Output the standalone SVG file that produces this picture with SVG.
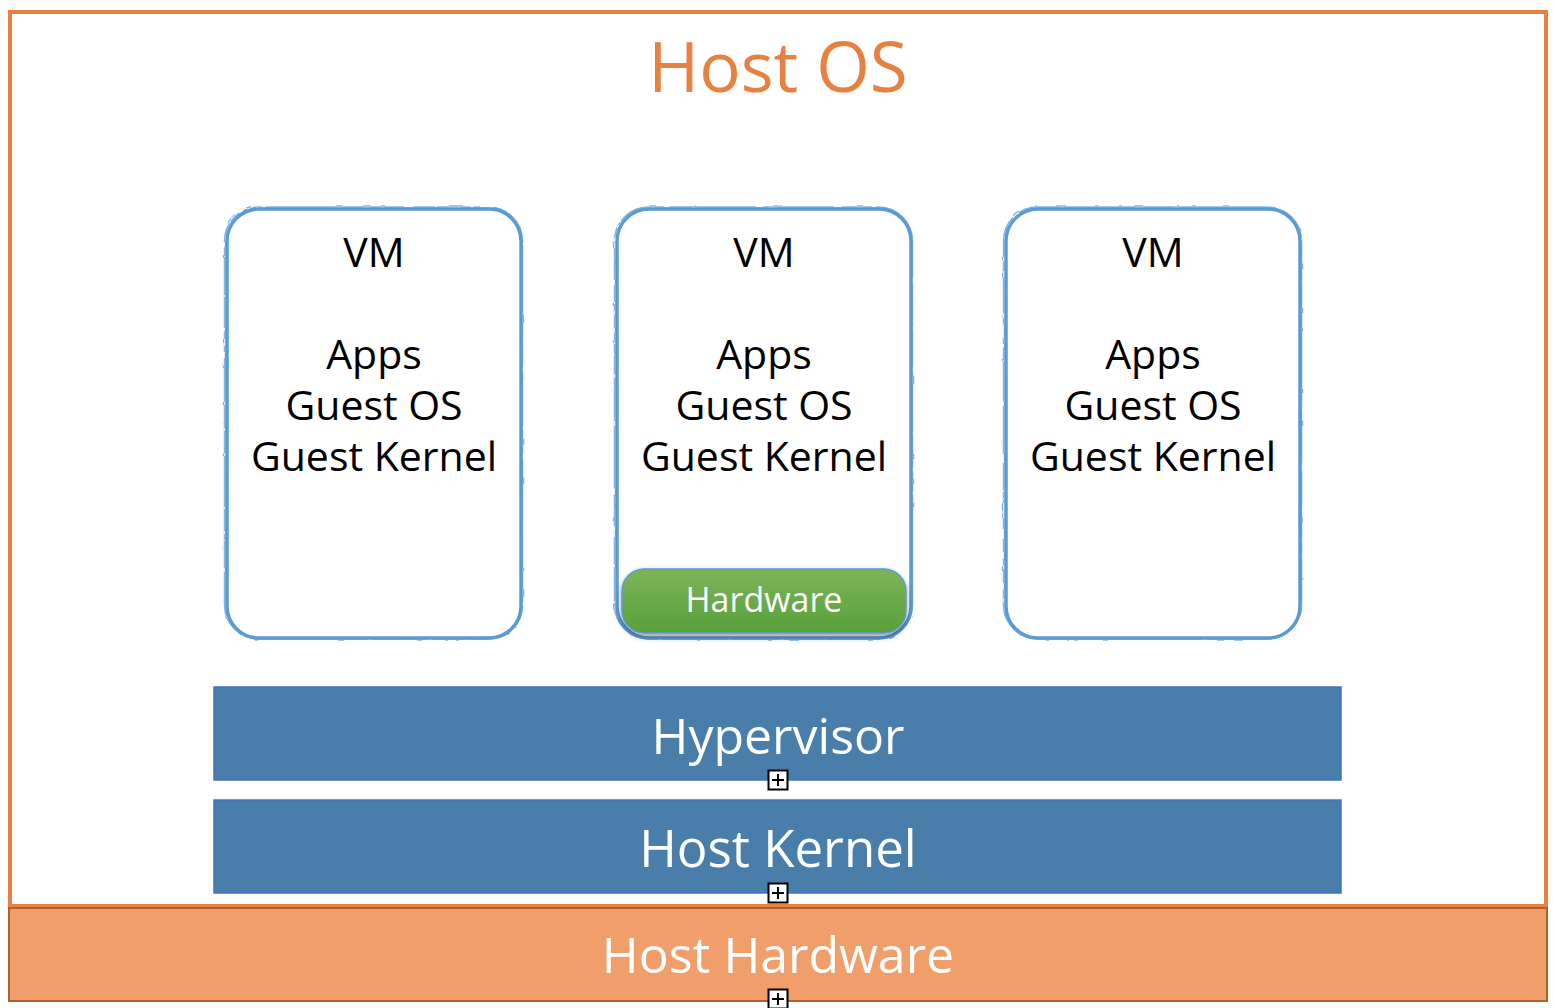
<svg xmlns="http://www.w3.org/2000/svg" width="1554" height="1008" viewBox="0 0 1554 1008">
<defs>
<style>
.t{font-family:"Open Sans","Liberation Sans",sans-serif;text-anchor:middle}
.vmt{font-size:41px;fill:#000}
.wt{fill:#fff}
.vm{fill:#fff;stroke:#5B9BD5;stroke-width:3.5}
.vm2{fill:none;stroke:#5B9BD5;stroke-width:1.5;opacity:0.75}
.bar{fill:#4A7EAA;stroke:#4472C4;stroke-width:1.5}
.plus{fill:#fff;stroke:#000;stroke-width:2}
</style>
<linearGradient id="gr" x1="0" y1="0" x2="0" y2="1">
<stop offset="0" stop-color="#7DB55A"/>
<stop offset="1" stop-color="#58A03A"/>
</linearGradient>
<filter id="sh" x="-10%" y="-20%" width="120%" height="150%">
<feGaussianBlur in="SourceAlpha" stdDeviation="3"/>
<feOffset dy="3"/>
<feComponentTransfer><feFuncA type="linear" slope="0.4"/></feComponentTransfer>
<feMerge><feMergeNode/><feMergeNode in="SourceGraphic"/></feMerge>
</filter>
<filter id="rough" x="-5%" y="-5%" width="110%" height="110%">
<feTurbulence type="fractalNoise" baseFrequency="0.08" numOctaves="2" seed="3"/>
<feDisplacementMap in="SourceGraphic" scale="3"/>
</filter>
<g id="pl"><rect class="plus" x="-9.5" y="-9.5" width="19" height="19"/><path d="M-6 0H6M0 -6V6" stroke="#000" stroke-width="2"/></g>
</defs>
<rect width="1554" height="1008" fill="#fff"/>
<g id="host-os">
<rect x="10" y="12" width="1536" height="894" fill="#fff" stroke="#E8803F" stroke-width="4"/>
<text class="t" x="778" y="92" font-size="69" fill="#E8803F">Host OS</text>
</g>
<g id="vm1">
<rect class="vm" x="227" y="209" width="294" height="429" rx="32"/>
<rect class="vm2" x="224.5" y="207" width="298" height="432" rx="34" filter="url(#rough)"/>
<text class="t vmt" x="374" y="267">VM</text>
<text class="t vmt" x="374" y="369">Apps</text>
<text class="t vmt" x="374" y="420">Guest OS</text>
<text class="t vmt" x="374" y="471">Guest Kernel</text>
</g>
<g id="vm2">
<rect class="vm" x="617" y="209" width="294" height="429" rx="32"/>
<rect class="vm2" x="614.5" y="207" width="298" height="432" rx="34" filter="url(#rough)"/>
<text class="t vmt" x="764" y="267">VM</text>
<text class="t vmt" x="764" y="369">Apps</text>
<text class="t vmt" x="764" y="420">Guest OS</text>
<text class="t vmt" x="764" y="471">Guest Kernel</text>
</g>
<g id="hardware">
<rect x="622" y="569" width="284" height="64" rx="22" fill="url(#gr)" stroke="#5B9BD5" stroke-width="1.5" filter="url(#sh)"/>
<text class="t wt" x="764" y="612" font-size="34">Hardware</text>
</g>
<g id="vm3">
<rect class="vm" x="1006" y="209" width="294" height="429" rx="32"/>
<rect class="vm2" x="1003.5" y="207" width="298" height="432" rx="34" filter="url(#rough)"/>
<text class="t vmt" x="1153" y="267">VM</text>
<text class="t vmt" x="1153" y="369">Apps</text>
<text class="t vmt" x="1153" y="420">Guest OS</text>
<text class="t vmt" x="1153" y="471">Guest Kernel</text>
</g>
<g id="hypervisor">
<rect class="bar" x="214" y="687" width="1127" height="93"/>
<text class="t wt" x="778" y="754" font-size="50">Hypervisor</text>
<use href="#pl" x="778" y="780"/>
</g>
<g id="host-kernel">
<rect class="bar" x="214" y="800" width="1127" height="93"/>
<text class="t wt" x="778" y="867" font-size="51">Host Kernel</text>
<use href="#pl" x="778" y="893"/>
</g>
<g id="host-hardware">
<rect x="9" y="908" width="1538" height="93" fill="#F09E6A" stroke="#B0602F" stroke-width="2"/>
<text class="t wt" x="778" y="973" font-size="50">Host Hardware</text>
<use href="#pl" x="778" y="999"/>
</g>
<g id="connectors"></g>
</svg>
